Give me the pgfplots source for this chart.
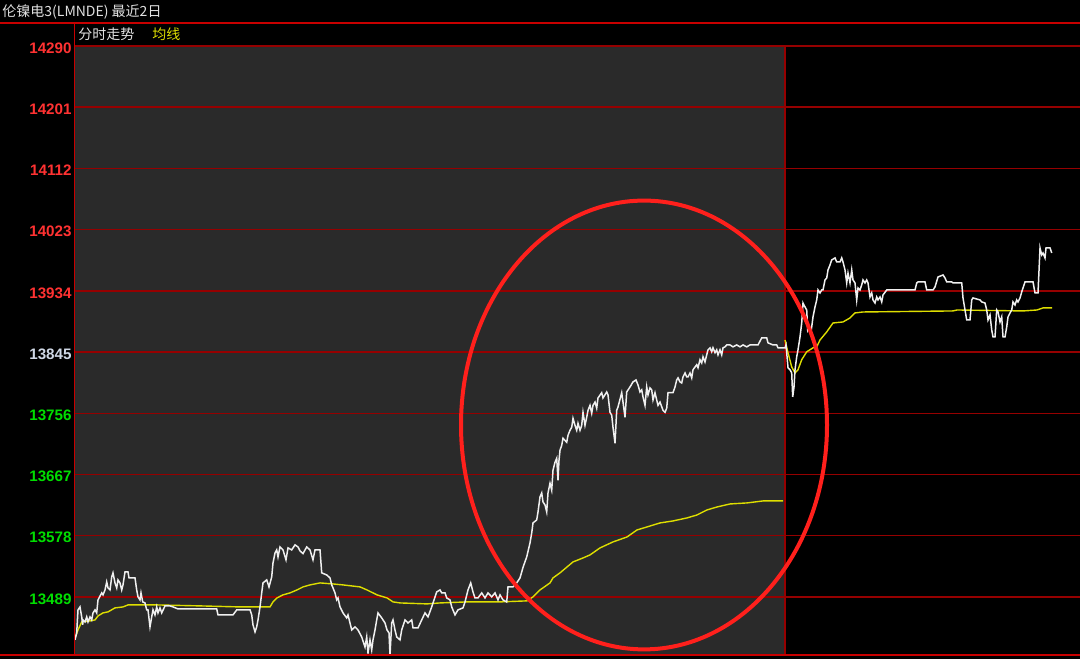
\documentclass[border=0pt]{standalone}
\usepackage{pgfplots}
\pgfplotsset{compat=1.18}
\usepackage{fontspec}
\setmainfont{Liberation Sans}
\newfontfamily\cjk{Noto Sans CJK SC}

\definecolor{bggrey}{RGB}{42,42,42}
\definecolor{gridred}{RGB}{150,0,0}
\definecolor{edgered}{RGB}{200,0,0}
\definecolor{ellred}{RGB}{255,32,28}
\definecolor{pricewhite}{RGB}{240,240,240}
\definecolor{avgyellow}{RGB}{222,222,0}
\definecolor{tkred}{RGB}{255,50,50}
\definecolor{tkgreen}{RGB}{0,222,0}
\definecolor{tkwhite}{RGB}{208,216,230}
\definecolor{txtgrey}{RGB}{225,225,225}

\begin{document}
\begin{tikzpicture}[x=1pt,y=1pt]
\begin{axis}[
  set layers,
  scale only axis, width=502.5pt, height=304.5pt,
  at={(37.5pt,2pt)}, anchor=south west,
  xmin=75, xmax=1080, ymin=13404.6, ymax=14290,
  axis line style={draw=none},
  xtick=\empty,
  extra x ticks={785}, extra x tick labels={},
  extra x tick style={xmajorgrids=true},
  ytick={13489,13578,13667,13756,13845,13934,14023,14112,14201,14290},
  yticklabels={\textcolor{tkgreen}{13489},\textcolor{tkgreen}{13578},\textcolor{tkgreen}{13667},\textcolor{tkgreen}{13756},\textcolor{tkwhite}{13845},\textcolor{tkred}{13934},\textcolor{tkred}{14023},\textcolor{tkred}{14112},\textcolor{tkred}{14201},\textcolor{tkred}{14290}},
  ymajorgrids,
  major grid style={draw=gridred, line width=0.75pt},
  major tick length=0pt,
  yticklabel style={font=\fontsize{7.6}{8}\selectfont\bfseries, anchor=east, inner sep=0pt, xshift=-1.5pt, yshift=-1pt},
]
\begin{pgfonlayer}{axis background}
\fill[black] ([shift={(-37.5pt,-2pt)}]rel axis cs:0,0) rectangle ([shift={(0pt,23pt)}]rel axis cs:1,1);
\fill[bggrey] (axis cs:75,13404.6) rectangle (axis cs:785,14290);
\end{pgfonlayer}

% average line, day 1
\addplot[avgyellow, line width=0.7pt] coordinates {
(75,13429.4) (78,13441.0) (81.7,13452.7) (90,13454.2) (95,13455.6) (98,13461.4)
(103,13465.8) (108,13467.3) (115,13473.1) (123,13474.5) (128,13477.4) (137,13477.4)
(157,13477.4) (200,13476.0) (240,13474.5) (270,13474.5) (273,13481.8) (277,13487.6)
(283,13492.0) (290,13494.9) (297,13499.2) (303,13503.6) (310,13506.5) (320,13509.4)
(333,13507.9) (343,13506.5) (360,13503.6) (367,13499.2) (377,13492.0) (387,13487.6)
(393,13481.8) (400,13480.3) (427,13478.9) (440,13480.3) (467,13481.8) (500,13481.8)
(527,13483.3) (533,13489.1) (540,13499.2) (550,13509.4) (553,13516.7) (560,13524.0)
(567,13532.6) (573,13539.9) (583,13545.7) (590,13550.1) (600,13560.3) (613,13569.0)
(627,13576.2) (637,13586.4) (647,13590.8) (660,13596.6) (673,13599.5) (687,13603.9)
(697,13608.2) (707,13615.5) (717,13619.8) (730,13624.2) (747,13625.7) (763,13628.6)
(783,13628.6)
};
% average line, day 2
\addplot[avgyellow, line width=0.7pt] coordinates {
(785,13862.6) (788,13844.0) (791.7,13823.4) (795,13814.7) (798,13819.3) (801.7,13833.9)
(806.7,13845.4) (813,13851.2) (816.7,13852.6) (820,13862.6) (826.7,13874.3) (833,13887.3)
(843,13888.8) (850,13894.6) (855,13901.9) (863,13903.3) (953,13904.8) (957,13906.2)
(1023,13904.8) (1037,13906.2) (1043,13909.2) (1052,13909.2)
};

% price line
\addplot[pricewhite, line width=0.75pt] coordinates {
(75,13426.6) (76.7,13436.7) (78,13470.2) (80,13474.5) (81.7,13460.0) (82.7,13448.4)
(83,13455.6) (85,13452.7) (86.7,13460.0) (88,13452.7) (90,13460.0) (91.7,13455.6)
(93,13465.8) (95,13470.2) (96.7,13465.8) (98,13484.7) (101.7,13494.9) (103,13492.0)
(105,13499.2) (106.7,13510.9) (108,13502.1) (110,13499.2) (111.7,13518.1) (113,13524.0)
(115,13509.4) (116.7,13502.1) (118,13513.8) (120,13509.4) (121.7,13499.2) (123,13506.5)
(125,13525.4) (128,13525.4) (129,13516.7) (135,13516.7) (136.7,13499.2) (138,13489.1)
(140,13484.7) (141,13494.9) (142.7,13481.8) (145,13480.3) (146.7,13470.2) (148,13470.2)
(150,13445.5) (151.7,13460.0) (153,13470.2) (155,13462.9) (156.7,13474.5) (158,13465.8)
(160,13473.1) (161.7,13465.8) (165,13476.0) (170,13476.0) (173,13474.5) (178,13471.6)
(216.7,13471.6) (218,13462.9) (233,13462.9) (236.7,13470.2) (250,13470.2) (251.7,13462.9)
(253,13448.4) (255,13438.2) (256.7,13445.5) (258,13455.6) (260,13474.5) (261.7,13494.9)
(263,13509.4) (266.7,13513.8) (269,13503.6) (271.7,13518.1) (273,13538.5) (275,13553.0)
(276.7,13557.4) (278,13547.2) (280,13561.7) (283,13557.4) (286,13542.9) (288,13560.3)
(291.7,13557.4) (295,13564.7) (298,13561.7) (300,13556.0) (303,13552.0) (306.7,13561.7)
(310,13557.4) (313,13542.9) (315,13557.4) (320,13557.4) (321.7,13524.0) (326.7,13521.0)
(330,13516.7) (331.7,13506.5) (333,13502.1) (335,13494.9) (336.7,13484.7) (338,13487.6)
(340,13474.5) (343,13465.8) (346.7,13458.5) (348,13462.9) (350,13451.2) (351.7,13441.0)
(355,13445.5) (358,13441.0) (361.7,13430.8) (365,13416.3) (366.7,13430.8) (368,13407.6)
(370,13426.6) (371.7,13411.9) (373,13426.6) (375,13441.0) (376.7,13455.6) (378,13465.8)
(381.7,13458.5) (385,13451.2) (387,13441.0) (389,13436.7) (390,13404.6) (391.7,13451.2)
(393,13455.6) (395,13441.0) (396.7,13430.8) (400,13426.6) (401.7,13441.0) (405,13455.6)
(408,13451.2) (411.7,13455.6) (413,13444.0) (418,13444.0) (421.7,13455.6) (425,13465.8)
(428,13460.0) (431.7,13474.5) (435,13489.1) (436.7,13496.3) (440,13499.2) (441.7,13494.9)
(445,13494.9) (446.7,13487.6) (450,13484.7) (451.7,13474.5) (455,13462.9) (458,13470.2)
(463,13473.1) (465,13481.8) (468,13499.2) (470.7,13509.4) (473,13496.3) (475,13487.6)
(478,13487.6) (481.7,13494.9) (485,13487.6) (488,13494.9) (491.7,13489.1) (495,13494.9)
(498,13484.7) (500,13492.0) (503,13484.7) (506.7,13481.8) (508,13503.6) (513,13503.6)
(516.7,13509.4) (520,13516.7) (523,13532.0) (526.7,13547.2) (530,13567.6) (531.7,13582.0)
(533,13596.6) (536.7,13601.0) (538,13612.6) (540,13634.4) (541.7,13640.2) (543,13627.1)
(545,13622.8) (546.7,13612.6) (548,13640.2) (550,13654.3) (551.7,13644.1) (553,13673.2)
(555,13684.8) (556.7,13690.6) (558,13658.6) (559,13687.7) (560,13702.2) (561.7,13709.5)
(563,13719.7) (566.7,13713.9) (568,13724.0) (570,13731.3) (571.7,13735.6) (573,13748.7)
(575,13738.5) (576.7,13731.3) (578,13741.4) (580,13731.3) (581.7,13738.5) (583,13757.4)
(585,13738.5) (586.7,13750.2) (588,13760.3) (590,13767.6) (591.7,13756.0) (593,13767.6)
(595,13772.3) (596.7,13763.4) (598,13778.3) (601.7,13785.9) (603,13778.3) (606.7,13787.0)
(608,13782.7) (610,13757.4) (611.7,13753.2) (613,13735.6) (615,13712.5) (616.7,13760.3)
(618,13765.2) (621.7,13785.9) (623,13772.3) (625,13750.2) (626.7,13787.0) (630,13794.3)
(633,13801.6) (636,13804.5) (638,13797.2) (640,13787.0) (641.7,13790.1) (643,13779.8)
(645,13767.6) (646.7,13794.3) (648,13782.7) (650,13792.9) (651.7,13790.1) (653,13775.4)
(655,13785.9) (656.7,13775.4) (658,13767.6) (660,13772.3) (663,13760.3) (665,13757.4)
(666.7,13763.4) (668,13785.9) (673,13785.9) (675,13794.3) (676.7,13804.5) (678,13807.4)
(680,13801.6) (681.7,13800.1) (683,13808.9) (685,13814.7) (686.7,13808.9) (688,13808.9)
(690,13814.7) (691.7,13807.4) (693,13819.3) (696.7,13826.6) (698,13822.2) (700,13833.9)
(701.7,13829.2) (703,13838.1) (705,13830.6) (706.7,13841.0) (708,13848.3) (710,13851.2)
(711.7,13845.4) (713,13851.2) (715,13844.0) (716.7,13848.3) (718,13841.0) (720,13848.3)
(721.7,13841.0) (723,13851.2) (725,13852.6) (726.7,13855.4) (730,13855.4) (733,13852.6)
(736.7,13855.4) (740,13852.6) (743,13855.4) (746.7,13852.6) (750,13855.4) (758,13855.4)
(761.7,13865.6) (766.7,13865.6) (768,13858.4) (773,13855.4) (776.7,13855.4) (778,13851.2)
(785,13851.2)
(786,13855.4) (786.7,13844.0) (788,13822.2) (790,13819.3) (791.7,13814.7) (792.7,13779.8)
(794,13794.3) (795,13819.3) (796.7,13838.1) (798,13848.3) (800,13867.0) (801.7,13887.3)
(803,13916.4) (805,13910.6) (806.7,13906.2) (807.7,13877.2) (809,13881.5) (810.7,13872.9)
(811.7,13881.5) (813,13896.1) (815,13910.6) (816.7,13920.8) (818,13935.3) (820,13931.0)
(821.7,13935.3) (823,13935.3) (825,13949.9) (826.7,13952.7) (828,13964.4) (830,13971.6)
(831.7,13978.9) (835,13981.9) (836.7,13976.0) (840,13976.0) (841.7,13981.9) (843,13976.0)
(845,13964.4) (846.7,13945.5) (848,13960.0) (850,13945.5) (851.7,13964.4) (853,13949.9)
(855,13945.5) (856.7,13920.8) (858,13938.2) (860,13935.3) (861.7,13942.6) (863,13949.9)
(865,13945.5) (866.7,13949.9) (868,13945.5) (870,13925.1) (871.7,13931.0) (873,13920.8)
(875,13916.4) (876.7,13925.1) (878,13920.8) (880,13925.1) (881.7,13917.9) (883,13928.1)
(886.7,13935.3) (915,13935.3) (916.7,13945.5) (918,13947.0) (925,13947.0) (926.7,13935.3)
(933,13935.3) (935,13939.7) (938,13954.2) (943,13957.1) (945,13952.7) (946.7,13947.0)
(951.7,13947.0) (953,13945.5) (961.7,13945.5) (963,13923.7) (965,13906.2) (966.7,13891.7)
(970,13891.7) (971.7,13920.8) (973,13923.7) (980,13920.8) (981.7,13917.9) (985,13916.4)
(986.7,13906.2) (988,13891.7) (990,13899.0) (991.7,13877.2) (993,13867.0) (995,13867.0)
(996.7,13906.2) (998,13903.3) (1000,13888.8) (1001.7,13896.1) (1003,13867.0) (1005,13867.0)
(1006.7,13881.5) (1008,13896.1) (1010,13901.9) (1011.7,13906.2) (1013,13917.9) (1015,13913.5)
(1016.7,13920.8) (1018,13917.9) (1020,13923.7) (1021.7,13932.4) (1025,13947.0) (1033,13947.0)
(1035,13931.0) (1038,13931.0) (1040,13996.4) (1041.7,13986.2) (1043,13989.1) (1045,13981.9)
(1046,13996.4) (1050,13996.4) (1051.7,13989.1)
};

% highlight
\draw[ellred, line width=2pt] (axis cs:644,13739) ellipse [x radius=91.5pt, y radius=112.2pt];
\end{axis}

% frame lines and header
\draw[edgered, line width=0.6pt] (0,318) -- (540,318);
\draw[edgered, line width=0.8pt] (37.3,318) -- (37.3,2);
\draw[edgered, line width=1pt] (0,2) -- (540,2);
\node[anchor=base west, inner sep=0pt, text height=5.5pt, text depth=0.8pt, text=txtgrey, font=\cjk\fontsize{7}{7}\selectfont] at (1,321) {伦镍电3(LMNDE) 最近2日};
\node[anchor=base west, inner sep=0pt, text height=5.5pt, text depth=0.8pt, text=txtgrey, font=\cjk\fontsize{7}{7}\selectfont] at (39,309.5) {分时走势};
\node[anchor=base west, inner sep=0pt, text height=5.5pt, text depth=0.8pt, text=avgyellow, font=\cjk\fontsize{7}{7}\selectfont] at (76,309.5) {均线};
\pgfresetboundingbox
\path[use as bounding box] (0,0) rectangle (540,329.5);
\end{tikzpicture}
\end{document}
